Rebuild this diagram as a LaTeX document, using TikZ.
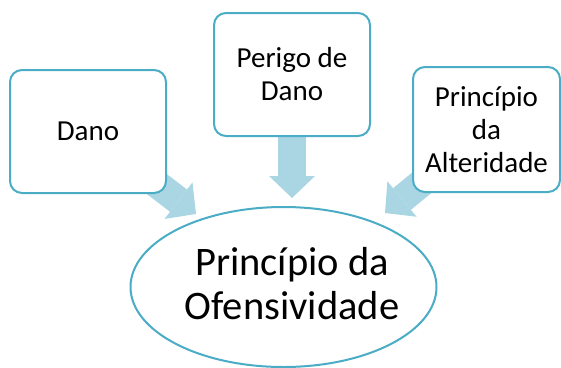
\documentclass[tikz,border=0pt]{standalone}
\usepackage{fontspec}
\setmainfont{Carlito}
\usetikzlibrary{shapes.geometric, arrows.meta, backgrounds}
\definecolor{boxline}{HTML}{4BACC6}
\definecolor{arrowfill}{RGB}{170,214,228}
\tikzset{
    box/.style={draw=boxline, line width=2pt, fill=white, rounded corners=12pt, inner sep=0pt, align=center, font=\fontsize{29}{33}\selectfont}, % the three outer boxes
    goal/.style={ellipse, draw=boxline, line width=2pt, fill=white, inner sep=0pt, minimum width=306pt, minimum height=160pt}, % the ellipse at the bottom
    goaltext/.style={inner sep=0pt, align=center, font=\fontsize{40.5}{44}\selectfont}, % its text, sits a little right of centre
    fat/.style={draw=arrowfill, line width=28pt, -{Triangle[width=46pt, length=22pt, line width=0pt]}}, % the wide pale arrows
}
\begin{document}
\begin{tikzpicture}[x=1pt, y=-1pt]
    \useasboundingbox (0,0) rectangle (561,367);
    \node[box, minimum width=156pt, minimum height=123pt] (dano) at (88,131.5) {Dano};
    \node[box, minimum width=156pt, minimum height=123pt] (perigo) at (292,74.5) {Perigo de\\Dano};
    \node[box, minimum width=147pt, minimum height=125pt] (alter) at (486.5,129.5) {Princípio\\da\\Alteridade};
    \node[goal] (ofens) at (283.5,287) {};
    \node[goaltext] (ofenstext) at (292,283.5) {Princípio da\\Ofensividade};
    \coordinate (tipA) at (196,214);
    \coordinate (tipB) at (292,198);
    \coordinate (tipC) at (385,213);
    \begin{scope}[on background layer]
        \draw[fat] (dano.center) -- (tipA);
        \draw[fat] (perigo.center) -- (tipB);
        \draw[fat] (alter.center) -- (tipC);
    \end{scope}
\end{tikzpicture}
\end{document}
